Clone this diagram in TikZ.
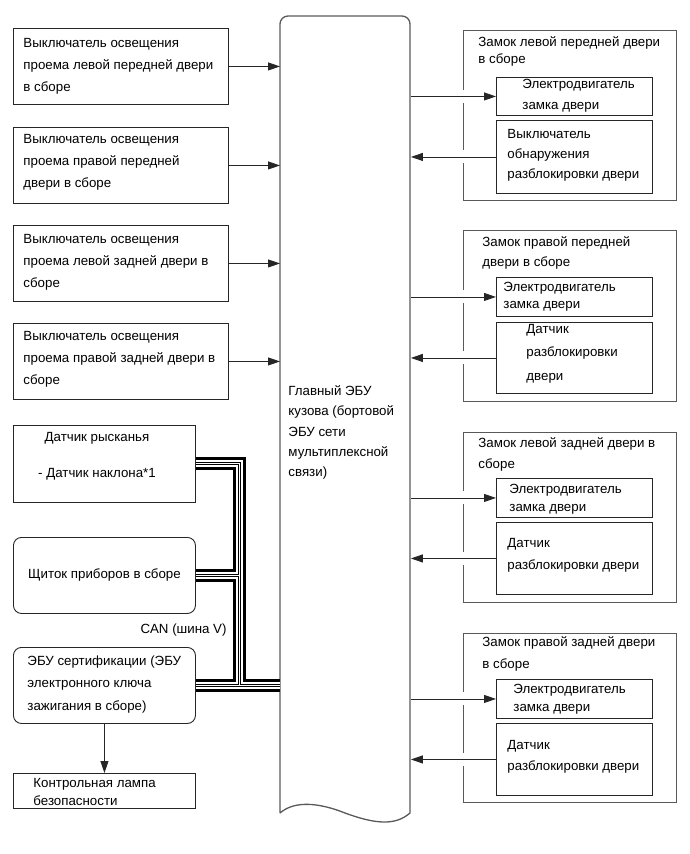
\documentclass[tikz,border=0pt]{standalone}
\usepackage{fontspec}
\setmainfont{Liberation Sans}
\usetikzlibrary{arrows.meta}
\colorlet{border}{black!85}
\colorlet{frame}{black!65}
\newcommand\fs{13.3}

\begin{document}
\begin{tikzpicture}[x=1pt, y=-1pt, line width=0.9pt, font=\fontsize{\fs}{22}\selectfont]
    \useasboundingbox (0,0) rectangle (689,854);

    \tikzset{
        switch box/.style={
            draw=border, rectangle, anchor=north west,
            minimum width=215, minimum height=76,
            inner sep=0pt,
        },
        unit box/.style={switch box, minimum width=182},
        ecu box/.style={unit box, rounded corners=8},
        lock frame/.style={
            draw=frame, line width=1.3pt, rectangle, anchor=north west,
            minimum width=213, inner sep=0pt,
        },
        part box/.style={
            draw=border, rectangle, anchor=north west,
            minimum width=156, inner sep=0pt,
        },
        txt/.style={
            anchor=west, align=left, inner sep=0pt,
            font=\fontsize{\fs}{#1}\selectfont,
        },
        txt/.default=22,
        signal/.style={draw=border, -{Triangle[length=12pt, width=8pt]}},
        crossing/.style={
            signal,
            preaction={draw=white, line width=13pt, -, shorten <=8pt, shorten >=8pt},
        },
        can bus/.style={
            draw=black, line width=13pt,
            postaction={draw=white, line width=7pt},
            postaction={draw=black, line width=3pt},
            postaction={draw=white, line width=1pt},
        },
    }

    % Door courtesy switches
    \node[switch box] (sw-lf) at (13,28) {};
    \node[txt] (sw-lf-text) at (23,66) {Выключатель освещения\\проема левой передней двери\\в сборе};
    \node[switch box] (sw-rf) at (13,127) {};
    \node[txt] (sw-rf-text) at (23,162) {Выключатель освещения\\проема правой передней\\двери в сборе};
    \node[switch box] (sw-lr) at (13,225) {};
    \node[txt] (sw-lr-text) at (23,262) {Выключатель освещения\\проема левой задней двери в\\сборе};
    \node[switch box] (sw-rr) at (13,323) {};
    \node[txt] (sw-rr-text) at (23,359) {Выключатель освещения\\проема правой задней двери в\\сборе};

    % CAN units
    \node[unit box, minimum height=77] (yaw) at (13,425) {};
    \node[txt=36, align=center, anchor=center] (yaw-text) at (97,456) {Датчик рысканья\\- Датчик наклона*1};
    \node[ecu box] (panel) at (13,537) {Щиток приборов в сборе};
    \node[anchor=east, inner sep=0pt] (can-label) at (227,630) {CAN (шина V)};
    \node[ecu box] (ecu) at (13,647) {};
    \node[txt=22.5] (ecu-text) at (27,684.5) {ЭБУ сертификации (ЭБУ\\электронного ключа\\зажигания в сборе)};
    \node[unit box, minimum height=35] (lamp) at (13,773) {};
    \node[txt=18] (lamp-text) at (33,792) {Контрольная лампа\\безопасности};

    % Main body ECU
    \node[anchor=north west, minimum width=130, minimum height=797, inner sep=0pt] (bcm) at (280,16) {};
    \draw[frame, line width=1.3pt]
        (280,813)
        {[rounded corners=8]
        -- (280,16)
        -- (410,16)}
        -- (410,813)
        .. controls (395,826) and (375,824) .. (345,813)
        .. controls (320,803) and (295,800) .. (280,813);
    \node[txt=20.3] (bcm-text) at (288,432.5) {Главный ЭБУ\\кузова (бортовой\\ЭБУ сети\\мультиплексной\\связи)};

    % Door locks
    \node[lock frame, minimum height=170] (lock-lf) at (463,30) {};
    \node[txt=17] (lock-lf-title) at (478,51.5) {Замок левой передней двери\\в сборе};
    \node[part box, minimum height=38] (motor-lf) at (496,77) {};
    \node[txt=21] (motor-lf-text) at (522,95.5) {Электродвигатель\\замка двери};
    \node[part box, minimum height=73] (sensor-lf) at (496,120) {};
    \node[txt=20] (sensor-lf-text) at (507,155) {Выключатель\\обнаружения\\разблокировки двери};

    \node[lock frame, minimum height=171] (lock-rf) at (463,230) {};
    \node[txt=20] (lock-rf-title) at (482,253) {Замок правой передней\\двери в сборе};
    \node[part box, minimum height=39] (motor-rf) at (496,277) {};
    \node[txt=17] (motor-rf-text) at (503,296.5) {Электродвигатель\\замка двери};
    \node[part box, minimum height=71] (sensor-rf) at (496,322) {};
    \node[txt=23.5] (sensor-rf-text) at (526,353.5) {Датчик\\разблокировки\\двери};

    \node[lock frame, minimum height=170] (lock-lr) at (463,432) {};
    \node[txt=21] (lock-lr-title) at (478,454.5) {Замок левой задней двери в\\сборе};
    \node[part box, minimum height=39] (motor-lr) at (496,478) {};
    \node[txt=18] (motor-lr-text) at (509,499) {Электродвигатель\\замка двери};
    \node[part box, minimum height=72] (sensor-lr) at (496,522) {};
    \node[txt=22] (sensor-lr-text) at (507,555) {Датчик\\разблокировки двери};

    \node[lock frame, minimum height=169] (lock-rr) at (463,633) {};
    \node[txt=22] (lock-rr-title) at (482,654) {Замок правой задней двери\\в сборе};
    \node[part box, minimum height=39] (motor-rr) at (496,679) {};
    \node[txt=18] (motor-rr-text) at (513,699) {Электродвигатель\\замка двери};
    \node[part box, minimum height=72] (sensor-rr) at (496,723) {};
    \node[txt=21] (sensor-rr-text) at (507,756.5) {Датчик\\разблокировки двери};

    % Signals
    \foreach \sw in {lf, rf, lr, rr}
        \draw[signal] (sw-\sw.east) -- (sw-\sw.east -| bcm.west);
    \foreach \door in {lf, rf, lr, rr} {
        \draw[crossing] (motor-\door.west -| bcm.east) -- (motor-\door.west);
        \draw[crossing] (sensor-\door.west) -- (sensor-\door.west -| bcm.east);
    }
    \draw[signal] (ecu.south) -- (lamp.north);

    % CAN bus
    \coordinate (bus-x) at (239,0);
    \draw[can bus]
        (yaw.east) -| (ecu.east -| bus-x)
        (panel.east) -- (panel.east -| bus-x)
        (ecu.east) -- (ecu.east -| bcm.west);
\end{tikzpicture}
\end{document}
